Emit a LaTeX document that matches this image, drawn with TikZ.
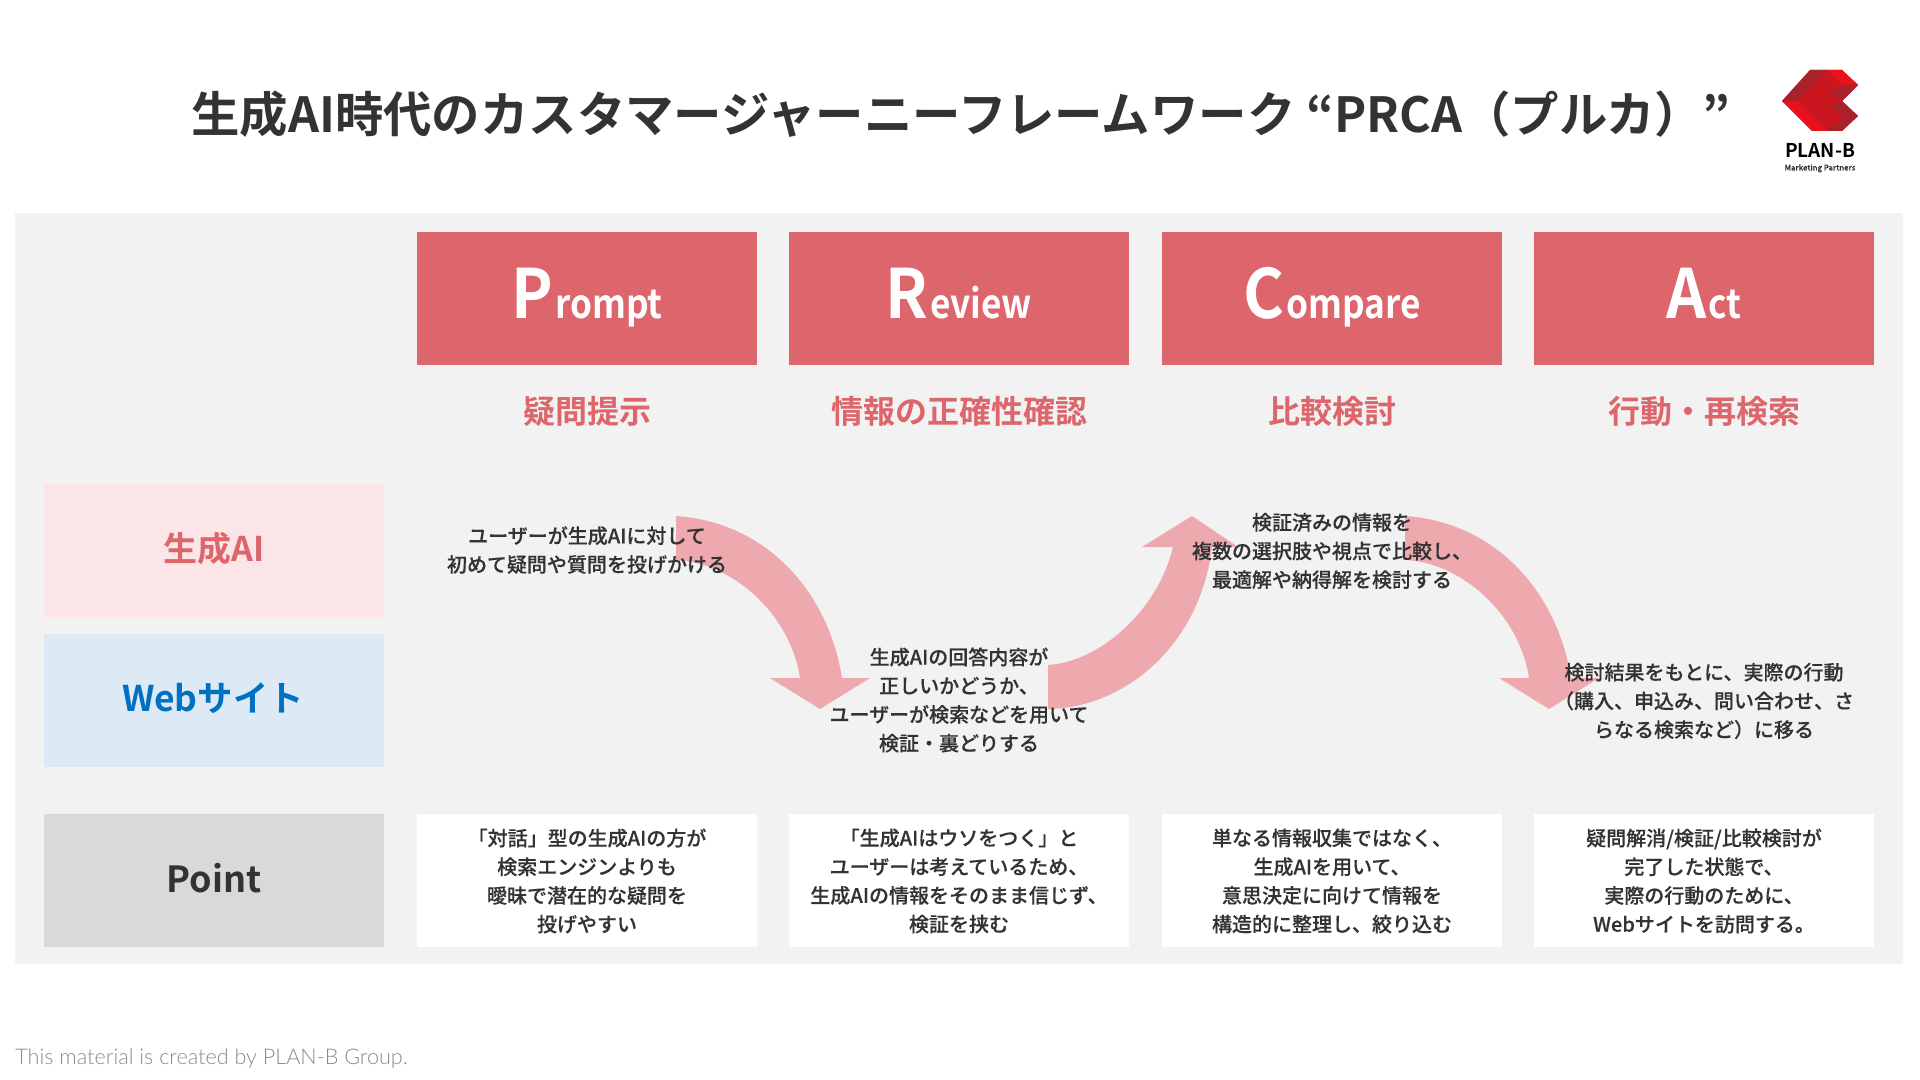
\documentclass[tikz,border=0pt]{standalone}
\usepackage{fontspec}
\setmainfont{Noto Sans CJK JP}[BoldFont={Noto Sans CJK JP Bold}]
\newfontfamily\medfont{Noto Sans CJK JP Medium}[FakeBold=0.2]
\newfontfamily\headbig{Noto Sans CJK JP Bold}[FakeStretch=0.92]
\newfontfamily\headsmall{Noto Sans CJK JP Bold}[FakeStretch=0.88]
\newfontfamily\footfont{Lato Light}
\definecolor{panelgray}{HTML}{F2F2F2}
\definecolor{headred}{HTML}{DC666B}
\definecolor{arrowpink}{HTML}{EDA9AD}
\definecolor{aipink}{HTML}{FBE5E6}
\definecolor{webblue}{HTML}{DDE9F5}
\definecolor{webtext}{HTML}{0070C0}
\definecolor{pointgray}{HTML}{D9D9D9}
\definecolor{inkdark}{HTML}{333333}
\definecolor{footgray}{HTML}{8A8A8A}
\definecolor{logored}{HTML}{C9161F}
\definecolor{logobright}{HTML}{E8121C}
\definecolor{logodark}{HTML}{A8222B}
\tikzset{
  box/.style={inner sep=0pt,outer sep=0pt,minimum height=66.5pt,minimum width=170pt,draw=none},
  headbox/.style={box,fill=headred},
  sidebox/.style={box},
  pointbox/.style={box,fill=white},
  headlabel/.style={anchor=base,text=white,inner sep=0pt},
  subtitle/.style={text=headred,inner sep=0pt,font=\bfseries\fontsize{16}{18}\selectfont},
  body/.style={align=center,inner sep=0pt,text=inkdark,font=\medfont\fontsize{10}{14.35}\selectfont},
  sidelabel/.style={inner sep=0pt,font=\bfseries\fontsize{#1}{20}\selectfont},
  flow/.style={fill=arrowpink,draw=none}
}
\newcommand{\bigsmall}[2]{{\headbig\fontsize{34}{36}\selectfont #1}\hspace{1pt}{\headsmall\fontsize{20}{26}\selectfont #2}}
\begin{document}
\begin{tikzpicture}[x=0.5pt,y=-0.5pt]
\useasboundingbox (0,0) rectangle (1920,1080);
\fill[white] (0,0) rectangle (1920,1080);
\fill[panelgray] (15,213) rectangle (1903,964);

% title
\node[anchor=base,inner sep=0pt,text=inkdark,font=\bfseries\fontsize{24.2}{26}\selectfont] (title) at (961,133)
  {生成AI時代のカスタマージャーニーフレームワーク “PRCA（プルカ）”};

% logo
\fill[logored] (1810,70)--(1842,70)--(1858,85)--(1842,101)--(1858,116)--(1842,131)--(1812,131)--(1782,101)--cycle;
\fill[logodark] (1782,101)--(1810,70)--(1827,70)--(1797,101)--cycle;
\fill[logobright] (1782,101)--(1797,101)--(1827,131)--(1812,131)--cycle;
\fill[logobright] (1827,70)--(1842,70)--(1858,85)--(1842,85)--cycle;
\fill[logodark] (1858,85)--(1842,101)--(1830,95)--(1842,85)--cycle;
\fill[logodark] (1842,101)--(1858,116)--(1842,131)--(1827,131)--(1845,116)--(1830,107)--cycle;
\node[anchor=base,inner sep=0pt,text=black,font=\bfseries\fontsize{9.5}{10}\selectfont] (logotext) at (1820,158) {PLAN-B};
\node[anchor=base,inner sep=0pt,text=inkdark,font=\medfont\fontsize{3.9}{5}\selectfont] (logosub) at (1820,170.5) {Marketing Partners};

% header boxes
\node[headbox] (hp) at (587,298.5) {};
\node[headbox] (hr) at (959,298.5) {};
\node[headbox] (hc) at (1332,298.5) {};
\node[headbox] (ha) at (1704,298.5) {};
\node[headlabel] (lp) at (587,319) {\bigsmall{P}{rompt}};
\node[headlabel] (lr) at (959,319) {\bigsmall{R}{eview}};
\node[headlabel] (lc) at (1332,319) {\bigsmall{C}{ompare}};
\node[headlabel] (la) at (1704,319) {\bigsmall{A}{ct}};

% subtitles
\node[subtitle] (sp) at (587,411) {疑問提示};
\node[subtitle] (sr) at (959.5,411) {情報の正確性確認};
\node[subtitle] (sc) at (1332,411) {比較検討};
\node[subtitle] (sa) at (1704,411) {行動・再検索};

% side boxes
\node[sidebox,fill=aipink] (bai) at (214,550) {};
\node[sidebox,fill=webblue] (bweb) at (214,700) {};
\node[sidebox,fill=pointgray] (bpt) at (214,880.5) {};
\node[sidelabel=17,text=headred] (tai) at (214,549) {生成AI};
\node[sidelabel=17.7,text=webtext] (tweb) at (213,698) {Webサイト};
\node[sidelabel=18,text=inkdark] (tpt) at (214,878) {Point};

% point boxes
\node[pointbox] (p1) at (587,880.5) {};
\node[pointbox] (p2) at (959,880.5) {};
\node[pointbox] (p3) at (1332,880.5) {};
\node[pointbox] (p4) at (1704,880.5) {};

% flow arrows
\fill[flow] (676,516) .. controls (765,522) and (828,590) .. (842,678)
  -- (870,678) -- (820,709) -- (770,678) -- (800,678)
  .. controls (790,612) and (730,562) .. (676,560) -- cycle;
\fill[flow] (1048,665) .. controls (1100,662) and (1158,610) .. (1173,547)
  -- (1142,547) -- (1192,516) -- (1238,547) -- (1212,547)
  .. controls (1200,645) and (1125,708) .. (1048,709) -- cycle;
\fill[flow] (1405,516) .. controls (1494,522) and (1557,590) .. (1571,678)
  -- (1599,678) -- (1549,709) -- (1499,678) -- (1529,678)
  .. controls (1519,612) and (1459,562) .. (1405,560) -- cycle;

% flow texts
\node[body] (t1) at (587,550) {ユーザーが生成AIに対して\\初めて疑問や質問を投げかける};
\node[body] (t2) at (959,700) {生成AIの回答内容が\\正しいかどうか、\\ユーザーが検索などを用いて\\検証・裏どりする};
\node[body] (t3) at (1332,551) {検証済みの情報を\\複数の選択肢や視点で比較し、\\最適解や納得解を検討する};
\node[body] (t4) at (1704,701) {検討結果をもとに、実際の行動\\（購入、申込み、問い合わせ、さ\\らなる検索など）に移る};

% point texts
\node[body] (q1) at (587,881) {「対話」型の生成AIの方が\\検索エンジンよりも\\曖昧で潜在的な疑問を\\投げやすい};
\node[body] (q2) at (959,881) {「生成AIはウソをつく」と\\ユーザーは考えているため、\\生成AIの情報をそのまま信じず、\\検証を挟む};
\node[body] (q3) at (1332,881) {単なる情報収集ではなく、\\生成AIを用いて、\\意思決定に向けて情報を\\構造的に整理し、絞り込む};
\node[body] (q4) at (1704,881) {疑問解消/検証/比較検討が\\完了した状態で、\\実際の行動のために、\\Webサイトを訪問する。};

% footer
\node[anchor=base west,inner sep=0pt,text=footgray,font=\footfont\fontsize{10.8}{12}\selectfont] (foot) at (15,1064) {This material is created by PLAN-B Group.};
\end{tikzpicture}
\end{document}
